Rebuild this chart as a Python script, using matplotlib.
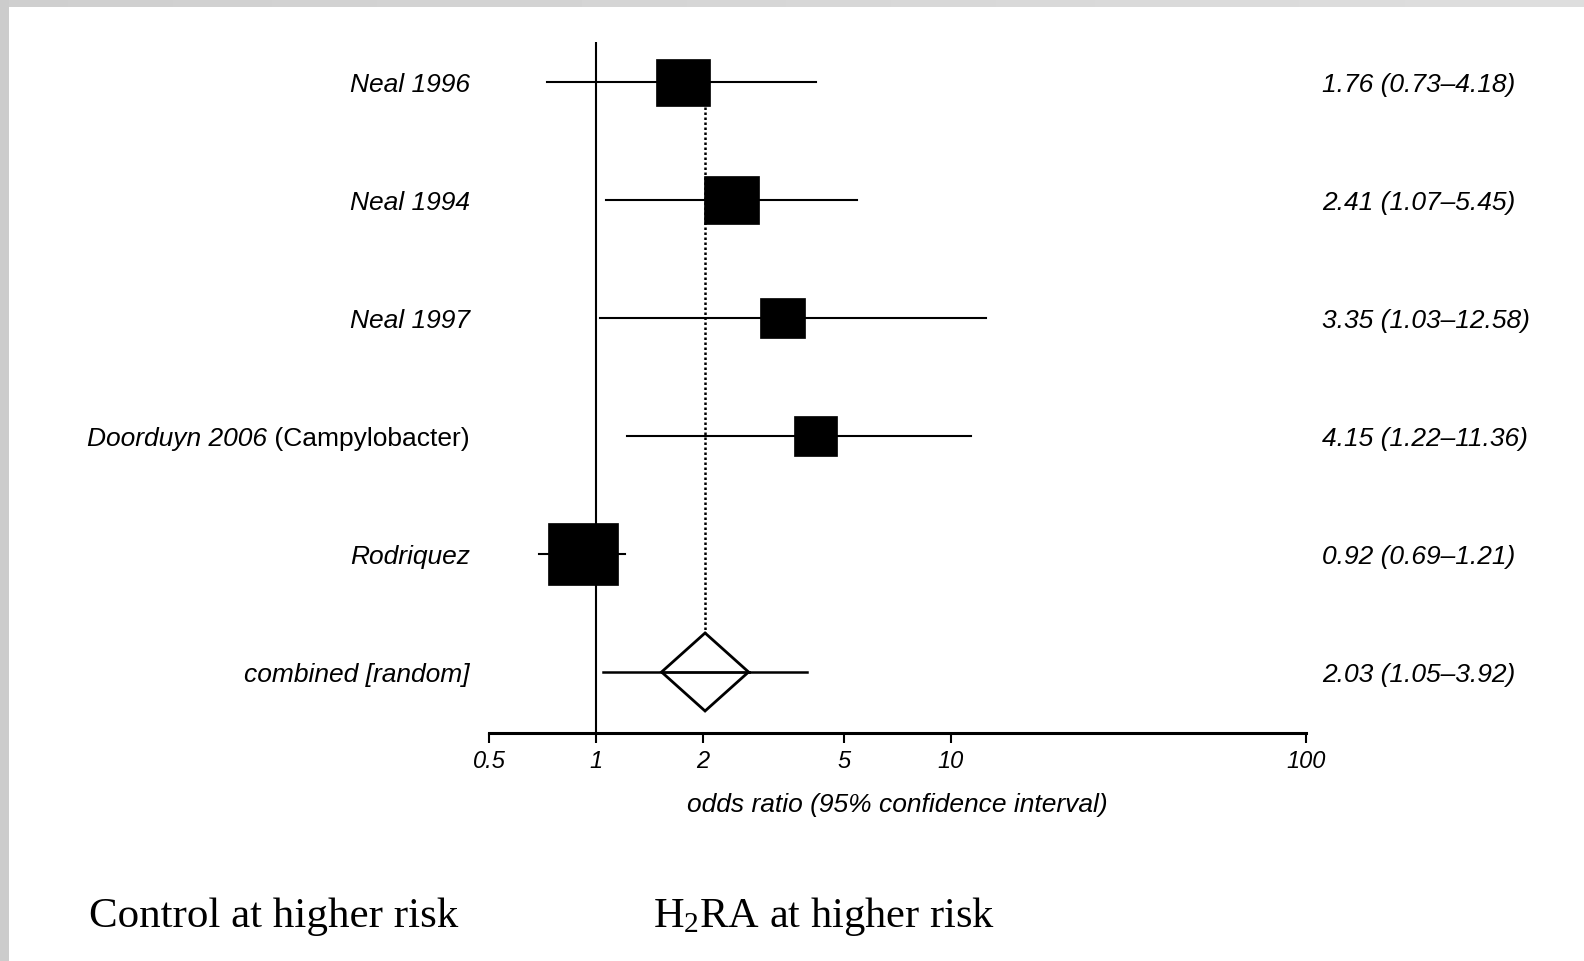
import numpy as np
import matplotlib
matplotlib.use("Agg")
import matplotlib.pyplot as plt
import matplotlib.transforms as mtransforms
from matplotlib.patches import Rectangle, Polygon

# study rows, top to bottom
studies = ["Neal 1996", "Neal 1994", "Neal 1997", "Doorduyn 2006", "Rodriquez"]
odds = [1.76, 2.41, 3.35, 4.15, 0.92]
lower = [0.73, 1.07, 1.03, 1.22, 0.69]
upper = [4.18, 5.45, 12.58, 11.36, 1.21]
pooled_label = "combined [random]"
pooled = 2.03
pooled_ci = (1.05, 3.92)
ticks = [0.5, 1, 2, 5, 10, 100]
tick_labels = ["0.5", "1", "2", "5", "10", "100"]

plt.rcParams["mathtext.fontset"] = "custom"
plt.rcParams["mathtext.rm"] = "Liberation Serif"
plt.rcParams["mathtext.it"] = "Liberation Serif:italic"

W, H = 1584, 962
fig = plt.figure(figsize=(W / 100, H / 100), dpi=100)
fig.patch.set_facecolor("white")

# scanned-page border: grey strips on top and left
top = fig.add_axes([0, 1 - 8 / H, 1, 8 / H])
top.imshow(np.linspace(0.81, 0.87, 256)[None, :], cmap="gray", vmin=0, vmax=1,
           aspect="auto", extent=(0, 1, 0, 1))
top.axis("off")
fig.add_artist(Rectangle((0, 0), 9 / W, 1, transform=fig.transFigure,
                         color="#cccccc", lw=0))

# plotting area: x 489..1306 px, y 43..734 px
ax = fig.add_axes([489 / W, 228 / H, 817 / W, 691 / H])
ax.set_xscale("log")
ax.set_xlim(0.5, 100)
n = len(studies) + 1
rows = np.arange(n, 0, -1)  # 6 .. 1
ax.set_ylim(0.483, 6.339)

for s in ["top", "left", "right"]:
    ax.spines[s].set_visible(False)
ax.spines["bottom"].set_linewidth(2.2)
ax.set_yticks([])
ax.set_xticks(ticks)
ax.set_xticklabels(tick_labels)
ax.xaxis.set_minor_locator(matplotlib.ticker.NullLocator())
ax.tick_params(axis="x", direction="out", length=7.5, width=1.5, pad=4,
               labelsize=17)
for lab in ax.get_xticklabels():
    lab.set_fontfamily("Liberation Sans")
    lab.set_fontstyle("italic")

ax.set_xlabel("odds ratio (95% confidence interval)", fontsize=19,
              fontfamily="Liberation Sans", fontstyle="italic", va="center")
ax.xaxis.set_label_coords(0.5, -(805 - 734) / 691)

# line of no effect and pooled estimate
ax.axvline(1, color="black", lw=1.5, zorder=1)
ax.plot([pooled, pooled], [rows[0], rows[-1] + 0.33], color="black",
        lw=1.8, ls=(0, (1, 1)), zorder=1)

# box sizes in pixels (w, h)
box_px = [(54, 47), (55, 48), (45, 40), (43, 40), (70, 62)]

for i in range(len(studies)):
    y = rows[i]
    ax.plot([lower[i], upper[i]], [y, y], color="black", lw=1.5, zorder=2)
    w, h = box_px[i]
    tr = fig.dpi_scale_trans + mtransforms.ScaledTranslation(odds[i], y, ax.transData)
    ax.add_patch(Rectangle((-w / 200, -h / 200), w / 100, h / 100,
                           transform=tr, facecolor="black", edgecolor="black",
                           lw=0.5, zorder=3))

# pooled row
yp = rows[-1]
ax.plot(pooled_ci, [yp, yp], color="black", lw=1.8, zorder=2)
tr = fig.dpi_scale_trans + mtransforms.ScaledTranslation(pooled, yp, ax.transData)
dx, dy = 0.435, 0.39
ax.add_patch(Polygon([(-dx, 0), (0, dy), (dx, 0), (0, -dy)], closed=True,
                     transform=tr, facecolor="white", edgecolor="black",
                     lw=2, zorder=3))
ax.plot([pooled / 10 ** (43.5 / 355), pooled * 10 ** (43.5 / 355)], [yp, yp],
        color="black", lw=2, zorder=4)

# row labels and estimates, nudged 2 px down
lab_tr = mtransforms.offset_copy(
    mtransforms.blended_transform_factory(fig.transFigure, ax.transData),
    fig=fig, x=0, y=-2, units="dots")
font = dict(fontfamily="Liberation Sans", fontsize=19)
labels = studies + [pooled_label]
fig.canvas.draw()
renderer = fig.canvas.get_renderer()
for i, name in enumerate(labels):
    y = rows[i]
    if name == "Doorduyn 2006":
        t = ax.text(470 / W, y, " (Campylobacter)", transform=lab_tr,
                    ha="right", va="center", **font)
        bb = t.get_window_extent(renderer)
        ax.text(bb.x0 / W, y, name, transform=lab_tr, ha="right",
                va="center", fontstyle="italic", **font)
    else:
        ax.text(470 / W, y, name, transform=lab_tr, ha="right", va="center",
                fontstyle="italic", **font)

est = [f"{o:.2f} ({l:.2f}\u2013{u:.2f})" for o, l, u in zip(odds, lower, upper)]
est.append(f"{pooled:.2f} ({pooled_ci[0]:.2f}\u2013{pooled_ci[1]:.2f})")
for i, s in enumerate(est):
    ax.text(1322 / W, rows[i], s, transform=lab_tr, ha="left", va="center",
            fontstyle="italic", **font)

# direction captions
fig.text(89 / W, (H - 927) / H, "Control at higher risk",
         fontfamily="Liberation Serif", fontsize=31, va="baseline")
fig.text(653 / W, (H - 927) / H, r"H$_2$RA at higher risk",
         fontfamily="Liberation Serif", fontsize=30.5, va="baseline")

fig.savefig("out.png", dpi=100)
